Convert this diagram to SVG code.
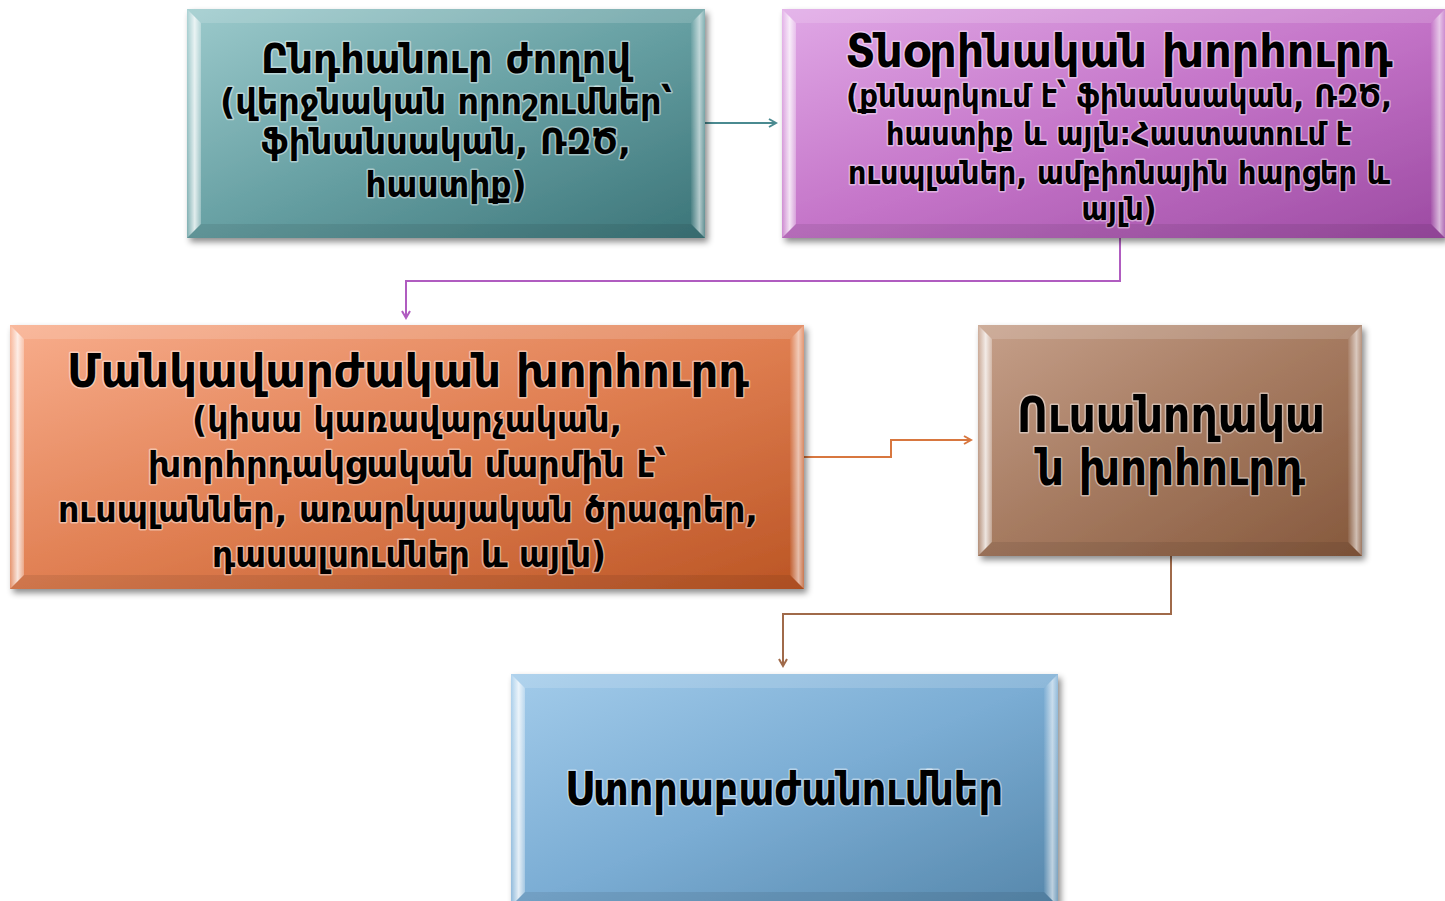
<svg xmlns="http://www.w3.org/2000/svg" width="1445" height="901" viewBox="0 0 1445 901">
<style>
text{font-family:"DejaVu Sans Condensed","DejaVu Sans","Noto Sans",sans-serif;font-weight:bold;fill:#000;text-anchor:middle;paint-order:stroke;stroke:#fff;stroke-opacity:.45;stroke-width:3;stroke-linejoin:round}
.bl{fill:url(#bevL)}.bt{fill:#fff;fill-opacity:.15}.br{fill:url(#bevR)}.bb{fill:#000;fill-opacity:.08}
.c{fill:none;stroke-width:2}
</style>
<defs>
<filter id="sh" x="-5%" y="-5%" width="115%" height="120%"><feDropShadow dx="3" dy="4" stdDeviation="3" flood-color="#000" flood-opacity=".45"/></filter>
<linearGradient id="bevL" x1="0" y1="0" x2="1" y2="0"><stop offset="0" stop-color="#fff" stop-opacity=".15"/><stop offset=".55" stop-color="#fff" stop-opacity=".8"/><stop offset="1" stop-color="#fff" stop-opacity=".3"/></linearGradient>
<linearGradient id="bevR" x1="0" y1="0" x2="1" y2="0"><stop offset="0" stop-color="#fff" stop-opacity=".05"/><stop offset=".6" stop-color="#fff" stop-opacity=".6"/><stop offset="1" stop-color="#fff" stop-opacity=".2"/></linearGradient>
<linearGradient id="gTeal" x1="0" y1="0" x2="1" y2="1"><stop offset="0" stop-color="#9ccacc"/><stop offset=".5" stop-color="#67a0a3"/><stop offset="1" stop-color="#3b7478"/></linearGradient>
<linearGradient id="gPur" x1="0" y1="0" x2="1" y2="1"><stop offset="0" stop-color="#e0a8e6"/><stop offset=".5" stop-color="#c474c8"/><stop offset="1" stop-color="#9c4aa2"/></linearGradient>
<linearGradient id="gOr" x1="0" y1="0" x2="1" y2="1"><stop offset="0" stop-color="#f8ad8c"/><stop offset=".5" stop-color="#e07f52"/><stop offset="1" stop-color="#bb5524"/></linearGradient>
<linearGradient id="gBr" x1="0" y1="0" x2="1" y2="1"><stop offset="0" stop-color="#c6a08a"/><stop offset=".5" stop-color="#a57a60"/><stop offset="1" stop-color="#85583c"/></linearGradient>
<linearGradient id="gBl" x1="0" y1="0" x2="1" y2="1"><stop offset="0" stop-color="#a2cbea"/><stop offset=".5" stop-color="#7badd4"/><stop offset="1" stop-color="#5687ab"/></linearGradient>
<marker id="aT" markerWidth="10" markerHeight="10" refX="8" refY="5" orient="auto" markerUnits="userSpaceOnUse"><path d="M1,1 L8,5 L1,9" fill="none" stroke="#4a8a90" stroke-width="2"/></marker>
<marker id="aP" markerWidth="10" markerHeight="10" refX="8" refY="5" orient="auto" markerUnits="userSpaceOnUse"><path d="M1,1 L8,5 L1,9" fill="none" stroke="#b05cc0" stroke-width="2"/></marker>
<marker id="aO" markerWidth="10" markerHeight="10" refX="8" refY="5" orient="auto" markerUnits="userSpaceOnUse"><path d="M1,1 L8,5 L1,9" fill="none" stroke="#d8773f" stroke-width="2"/></marker>
<marker id="aB" markerWidth="10" markerHeight="10" refX="8" refY="5" orient="auto" markerUnits="userSpaceOnUse"><path d="M1,1 L8,5 L1,9" fill="none" stroke="#a06a4a" stroke-width="2"/></marker>
</defs>
<rect width="1445" height="901" fill="#fff"/>

<g id="connectors">
<path class="c" stroke="#4a8a90" d="M705,123 H776" marker-end="url(#aT)"/>
<path class="c" stroke="#b05cc0" d="M1120,238 V281 H406 V318" marker-end="url(#aP)"/>
<path class="c" stroke="#d8773f" d="M804,457 H891 V440 H971" marker-end="url(#aO)"/>
<path class="c" stroke="#a06a4a" d="M1171,556 V614 H783 V666" marker-end="url(#aB)"/>
</g>

<g id="n1" transform="translate(187,9)">
<rect width="518" height="229" fill="url(#gTeal)" filter="url(#sh)"/>
<path class="bl" d="M0,0 L14,14 L14,215 L0,229Z"/><path class="bt" d="M0,0 L518,0 L504,14 L14,14Z"/><path class="br" d="M504,14 L518,0 L518,229 L504,215Z"/><path class="bb" d="M0,229 L518,229 L504,215 L14,215Z"/>
<text x="259" y="64" font-size="41" textLength="370" lengthAdjust="spacingAndGlyphs">Ընդհանուր ժողով</text>
<text x="259" y="105" font-size="35" textLength="452" lengthAdjust="spacingAndGlyphs">(վերջնական որոշումներ՝</text>
<text x="259" y="145" font-size="35" textLength="370" lengthAdjust="spacingAndGlyphs">ֆինանսական, ՌԶԾ,</text>
<text x="259" y="188" font-size="35" textLength="161" lengthAdjust="spacingAndGlyphs">հաստիք)</text>
</g>

<g id="n2" transform="translate(782,9)">
<rect width="663" height="229" fill="url(#gPur)" filter="url(#sh)"/>
<path class="bl" d="M0,0 L14,14 L14,215 L0,229Z"/><path class="bt" d="M0,0 L663,0 L649,14 L14,14Z"/><path class="br" d="M649,14 L663,0 L663,229 L649,215Z"/><path class="bb" d="M0,229 L663,229 L649,215 L14,215Z"/>
<text x="337" y="58" font-size="47" textLength="547" lengthAdjust="spacingAndGlyphs">Տնօրինական խորհուրդ</text>
<text x="337" y="98" font-size="32" textLength="546" lengthAdjust="spacingAndGlyphs">(քննարկում է՝ ֆինանսական, ՌԶԾ,</text>
<text x="337" y="136" font-size="32" textLength="466" lengthAdjust="spacingAndGlyphs">հաստիք և այլն:Հաստատում է</text>
<text x="337" y="175" font-size="32" textLength="542" lengthAdjust="spacingAndGlyphs">ուսպլաներ, ամբիոնային հարցեր և</text>
<text x="337" y="211" font-size="32" textLength="75" lengthAdjust="spacingAndGlyphs">այլն)</text>
</g>

<g id="n3" transform="translate(10,325)">
<rect width="794" height="264" fill="url(#gOr)" filter="url(#sh)"/>
<path class="bl" d="M0,0 L14,14 L14,250 L0,264Z"/><path class="bt" d="M0,0 L794,0 L780,14 L14,14Z"/><path class="br" d="M780,14 L794,0 L794,264 L780,250Z"/><path class="bb" d="M0,264 L794,264 L780,250 L14,250Z"/>
<text x="398" y="62" font-size="47" textLength="682" lengthAdjust="spacingAndGlyphs">Մանկավարժական խորհուրդ</text>
<text x="397" y="107" font-size="35" textLength="430" lengthAdjust="spacingAndGlyphs">(կիսա կառավարչական,</text>
<text x="397" y="152" font-size="35" textLength="518" lengthAdjust="spacingAndGlyphs">խորհրդակցական մարմին է՝</text>
<text x="398" y="197" font-size="35" textLength="700" lengthAdjust="spacingAndGlyphs">ուսպլաններ, առարկայական ծրագրեր,</text>
<text x="399" y="242" font-size="35" textLength="394" lengthAdjust="spacingAndGlyphs">դասալսումներ և այլն)</text>
</g>

<g id="n4" transform="translate(978,325)">
<rect width="384" height="231" fill="url(#gBr)" filter="url(#sh)"/>
<path class="bl" d="M0,0 L14,14 L14,217 L0,231Z"/><path class="bt" d="M0,0 L384,0 L370,14 L14,14Z"/><path class="br" d="M370,14 L384,0 L384,231 L370,217Z"/><path class="bb" d="M0,231 L384,231 L370,217 L14,217Z"/>
<text x="193" y="107" font-size="49" textLength="308" lengthAdjust="spacingAndGlyphs">Ուսանողակա</text>
<text x="193" y="160" font-size="49" textLength="268" lengthAdjust="spacingAndGlyphs">ն խորհուրդ</text>
</g>

<g id="n5" transform="translate(511,674)">
<rect width="547" height="232" fill="url(#gBl)" filter="url(#sh)"/>
<path class="bl" d="M0,0 L14,14 L14,218 L0,232Z"/><path class="bt" d="M0,0 L547,0 L533,14 L14,14Z"/><path class="br" d="M533,14 L547,0 L547,232 L533,218Z"/><path class="bb" d="M0,232 L547,232 L533,218 L14,218Z"/>
<text x="273" y="131" font-size="46" textLength="438" lengthAdjust="spacingAndGlyphs">Ստորաբաժանումներ</text>
</g>
</svg>
